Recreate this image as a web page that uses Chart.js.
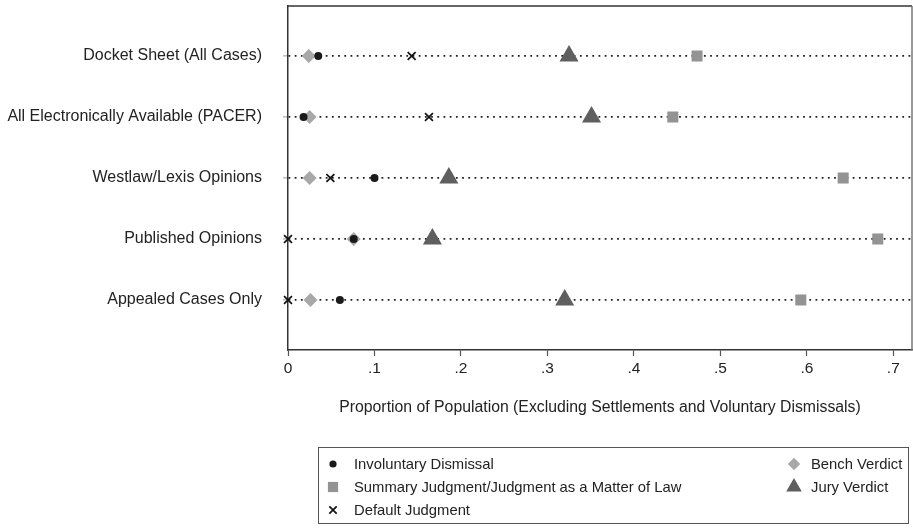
<!DOCTYPE html>
<html>
<head>
<meta charset="utf-8">
<script src="https://cdn.jsdelivr.net/npm/chart.js@4.4.1/dist/chart.umd.min.js"></script>
<style>
  html, body { margin: 0; padding: 0; background: #fff; }
  #chartContainer { width: 913px; height: 528px; position: relative; }
</style>
</head>
<body>
<div id="chartContainer"><canvas id="myChart"></canvas></div>
<script>
// Datos
const sources = [
  "Docket Sheet (All Cases)",
  "All Electronically Available (PACER)",
  "Westlaw/Lexis Opinions",
  "Published Opinions",
  "Appealed Cases Only"
];
const involuntaryDismissal = [0.035, 0.018, 0.100, 0.076, 0.060];
const summaryJudgment      = [0.473, 0.445, 0.642, 0.682, 0.593];
const defaultJudgment      = [0.143, 0.163, 0.049, 0.000, 0.000];
const benchVerdict         = [0.024, 0.025, 0.025, 0.076, 0.026];
const juryVerdict          = [0.325, 0.351, 0.186, 0.167, 0.320];
const xTicks      = [0, 0.1, 0.2, 0.3, 0.4, 0.5, 0.6, 0.7];
const xTickLabels = ["0", ".1", ".2", ".3", ".4", ".5", ".6", ".7"];

const FONT = "'Liberation Sans', Arial, Helvetica, sans-serif";
const TEXT = "#222";
const LABEL_FONT = 16;
const TICK_FONT = 15.5;
const TITLE_FONT = 15.8;
const LEGEND_FONT = 14.8;

function toPoints(values) {
  return values.map((v, i) => ({ x: v, y: i }));
}

// quitar el relleno automatico de las etiquetas
function noPadding(scale) {
  scale.paddingTop = 0;
  scale.paddingBottom = 0;
  scale.paddingLeft = 0;
  scale.paddingRight = 0;
}

// Marco superior y derecho
const framePlugin = {
  id: "frame",
  beforeDatasetsDraw(chart) {
    const { ctx, chartArea: a } = chart;
    ctx.save();
    ctx.lineWidth = 1.5;
    ctx.strokeStyle = "#333";
    ctx.beginPath();
    ctx.moveTo(a.left, a.top);
    ctx.lineTo(a.right, a.top);
    ctx.stroke();
    ctx.strokeStyle = "#777";
    ctx.beginPath();
    ctx.moveTo(a.right, a.top);
    ctx.lineTo(a.right, a.bottom);
    ctx.stroke();
    ctx.restore();
  }
};

// Leyenda en dos columnas dentro de un recuadro
const boxLegendPlugin = {
  id: "boxLegend",
  afterDraw(chart) {
    const ctx = chart.ctx;
    const box = { x: 318.5, y: 447.5, w: 590, h: 76 };
    const slots = [
      { mx: 333, tx: 354, y: 464, r: 3.6 },
      { mx: 333, tx: 354, y: 487, r: 7.2 },
      { mx: 333, tx: 354, y: 510, r: 5.2 },
      { mx: 794, tx: 811, y: 464, r: 6.2 },
      { mx: 794, tx: 811, y: 487, r: 9.0 }
    ];
    ctx.save();
    ctx.strokeStyle = "#555";
    ctx.lineWidth = 1;
    ctx.strokeRect(box.x, box.y, box.w, box.h);
    ctx.font = LEGEND_FONT + "px " + FONT;
    ctx.textBaseline = "middle";
    ctx.textAlign = "left";
    chart.data.datasets.forEach((ds, i) => {
      const s = slots[i];
      ctx.fillStyle = ds.pointBackgroundColor;
      ctx.strokeStyle = ds.pointBorderColor;
      ctx.lineWidth = ds.pointBorderWidth;
      Chart.helpers.drawPoint(ctx, {
        pointStyle: ds.pointStyle,
        radius: s.r,
        rotation: 0,
        borderWidth: ds.pointBorderWidth
      }, s.mx, s.y);
      ctx.fillStyle = TEXT;
      ctx.fillText(ds.label, s.tx, s.y + 0.5);
    });
    ctx.restore();
  }
};

const ctx = document.getElementById("myChart").getContext("2d");
window.myChart = new Chart(ctx, {
  type: "scatter",
  data: {
    datasets: [
      {
        label: "Involuntary Dismissal",
        data: toPoints(involuntaryDismissal),
        pointStyle: "circle",
        pointRadius: 4,
        pointBackgroundColor: "#1a1a1a",
        pointBorderColor: "#1a1a1a",
        pointBorderWidth: 0
      },
      {
        label: "Summary Judgment/Judgment as a Matter of Law",
        data: toPoints(summaryJudgment),
        pointStyle: "rect",
        pointRadius: 7.8,
        pointBackgroundColor: "#939393",
        pointBorderColor: "#939393",
        pointBorderWidth: 0
      },
      {
        label: "Default Judgment",
        data: toPoints(defaultJudgment),
        pointStyle: "crossRot",
        pointRadius: 5.6,
        pointBackgroundColor: "#111",
        pointBorderColor: "#111",
        pointBorderWidth: 1.7
      },
      {
        label: "Bench Verdict",
        data: toPoints(benchVerdict),
        pointStyle: "rectRot",
        pointRadius: 7,
        pointBackgroundColor: "#a8a8a8",
        pointBorderColor: "#a8a8a8",
        pointBorderWidth: 0
      },
      {
        label: "Jury Verdict",
        data: toPoints(juryVerdict),
        pointStyle: "triangle",
        pointRadius: 11,
        pointBackgroundColor: "#5f5f5f",
        pointBorderColor: "#5f5f5f",
        pointBorderWidth: 0
      }
    ]
  },
  options: {
    responsive: true,
    maintainAspectRatio: false,
    animation: false,
    events: [],
    clip: false,
    layout: { autoPadding: false, padding: { left: 0, top: 6, right: 1, bottom: 110.5 } },
    plugins: {
      legend: { display: false },
      tooltip: { enabled: false }
    },
    scales: {
      x: {
        type: "linear",
        min: 0,
        max: 0.7216,
        afterBuildTicks: (scale) => { scale.ticks = xTicks.map(v => ({ value: v })); },
        afterFit: (scale) => { scale.height = 67.5; noPadding(scale); },
        ticks: {
          autoSkip: false,
          maxRotation: 0,
          padding: 3,
          color: TEXT,
          font: { family: FONT, size: TICK_FONT },
          callback: (v, i) => xTickLabels[i]
        },
        grid: {
          drawOnChartArea: false,
          drawTicks: true,
          tickLength: 6,
          tickColor: "#555",
          tickWidth: 1.2
        },
        border: { display: true, color: "#333", width: 1.5 },
        title: {
          display: true,
          text: "Proportion of Population (Excluding Settlements and Voluntary Dismissals)",
          color: TEXT,
          font: { family: FONT, size: TITLE_FONT },
          padding: { top: 0, bottom: 0 }
        }
      },
      y: {
        type: "linear",
        reverse: true,
        min: -0.82,
        max: 4.82,
        afterBuildTicks: (scale) => { scale.ticks = sources.map((s, i) => ({ value: i })); },
        afterFit: (scale) => { scale.width = 288; noPadding(scale); },
        ticks: {
          autoSkip: false,
          padding: 21,
          color: TEXT,
          font: { family: FONT, size: LABEL_FONT },
          callback: (v, i) => sources[i]
        },
        grid: {
          color: "#222",
          lineWidth: 1.8,
          drawTicks: true,
          tickLength: 5,
          tickColor: "#999",
          tickWidth: 1
        },
        border: { display: true, color: "#333", width: 1.5, dash: [1.8, 4.4] }
      }
    }
  },
  plugins: [framePlugin, boxLegendPlugin]
});
</script>
</body>
</html>
